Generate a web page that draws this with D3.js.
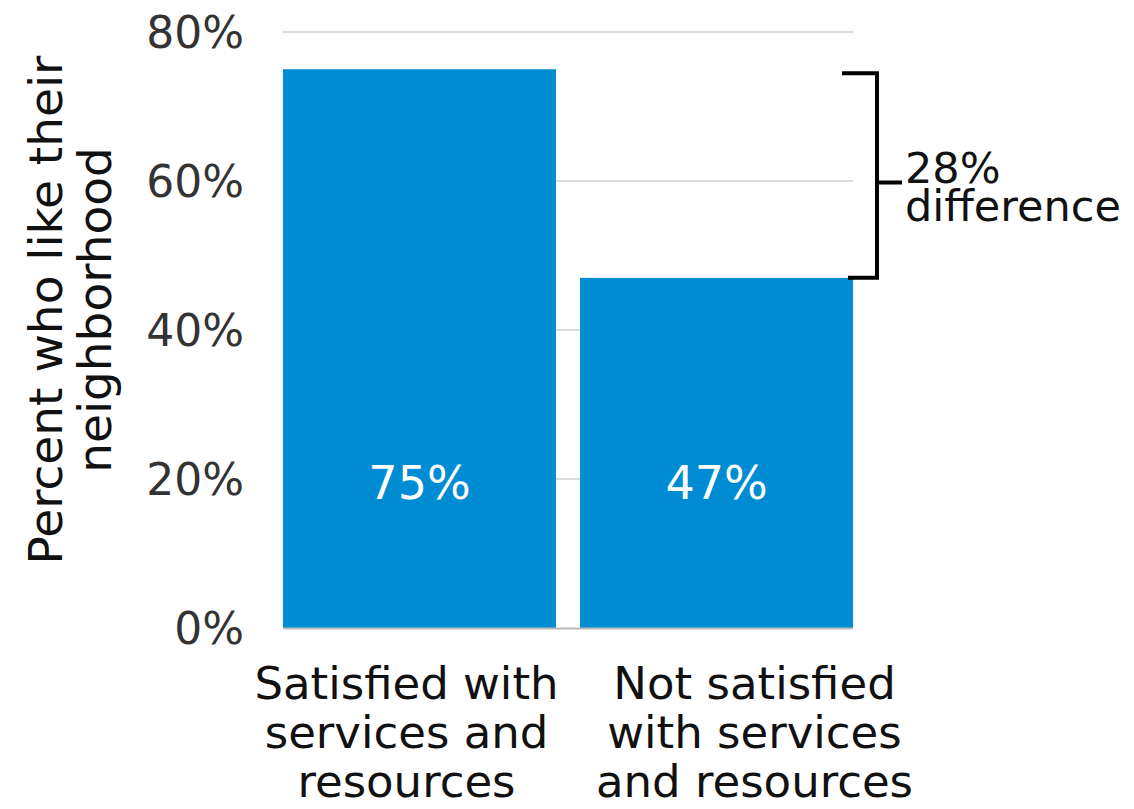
<!DOCTYPE html>
<html><head><meta charset="utf-8">
<script src="https://cdn.jsdelivr.net/npm/d3@7"></script>
<style>body{margin:0;background:#fff}</style>
</head><body>
<svg id="chart" width="1134" height="809"></svg>
<script>
const categories = [["Satisfied with","services and","resources"],["Not satisfied","with services","and resources"]];
const values = [75, 47];
const valueLabels = ["75%", "47%"];
const yTicks = [0, 20, 40, 60, 80];
const yTitle = ["Percent who like their", "neighborhood"];
const annotation = ["28%", "difference"];

const FONT = "'DejaVu Sans', sans-serif";
const svg = d3.select("#chart");
const x = d3.scaleBand().domain(d3.range(values.length)).range([283, 853]).paddingInner(0.081).paddingOuter(0);
const y = d3.scaleLinear().domain([0, 80]).range([628, 32]);
const labelShift = [-13, 38];

// gridlines
svg.append("g").selectAll("line").data(yTicks.filter(d => d > 0)).join("line")
  .attr("x1", 283).attr("x2", 853).attr("y1", d => y(d)).attr("y2", d => y(d))
  .attr("stroke", "#dcdcdc").attr("stroke-width", 2);

// y axis
const yAxis = svg.append("g").attr("transform", "translate(244,0)")
  .call(d3.axisLeft(y).tickValues(yTicks).tickFormat(d => d + "%").tickSize(0).tickPadding(0));
yAxis.select(".domain").remove();
yAxis.selectAll("text").attr("font-family", FONT).attr("font-size", 44).attr("fill", "#333").attr("dy", "0.36em");

// bars
svg.append("g").selectAll("rect").data(values).join("rect")
  .attr("x", (d, i) => x(i)).attr("width", x.bandwidth())
  .attr("y", d => y(d)).attr("height", d => y(0) - y(d))
  .attr("fill", "#008cd3");

// baseline
svg.append("line").attr("x1", 283).attr("x2", 853).attr("y1", y(0) + 0.5).attr("y2", y(0) + 0.5)
  .attr("stroke", "#bbb").attr("stroke-width", 2);

// value labels
svg.append("g").selectAll("text").data(valueLabels).join("text")
  .attr("x", (d, i) => x(i) + x.bandwidth() / 2).attr("y", y(20) + 20)
  .attr("text-anchor", "middle").attr("font-family", FONT).attr("font-size", 46).attr("fill", "#fff")
  .text(d => d);

// category labels
const cat = svg.append("g").selectAll("text").data(categories).join("text")
  .attr("text-anchor", "middle").attr("font-family", FONT).attr("font-size", 45).attr("fill", "#111")
  .attr("transform", (d, i) => `translate(${x(i) + x.bandwidth() / 2 + labelShift[i]},699)`);
cat.selectAll("tspan").data(d => d).join("tspan")
  .attr("x", 0).attr("y", (d, j) => j * 49).text(d => d);

// y title
const yt = svg.append("text").attr("transform", "translate(0,310) rotate(-90)")
  .attr("text-anchor", "middle").attr("font-family", FONT).attr("font-size", 47).attr("fill", "#111");
yt.selectAll("tspan").data(yTitle).join("tspan").attr("x", 0).attr("y", (d, j) => 62 + j * 49).text(d => d);

// bracket
const bTop = y(values[0]) + 4, bBot = y(values[1]), bx = 877;
const bMid = (bTop + bBot) / 2 + 7;
svg.append("path")
  .attr("d", `M842,${bTop}H${bx}V${bBot}H848 M${bx},${bMid}H902`)
  .attr("fill", "none").attr("stroke", "#000").attr("stroke-width", 4);
const ann = svg.append("text").attr("font-family", FONT).attr("font-size", 43).attr("fill", "#111");
ann.selectAll("tspan").data(annotation).join("tspan").attr("x", 905).attr("y", (d, j) => 183 + j * 38).text(d => d);
</script>
</body></html>
